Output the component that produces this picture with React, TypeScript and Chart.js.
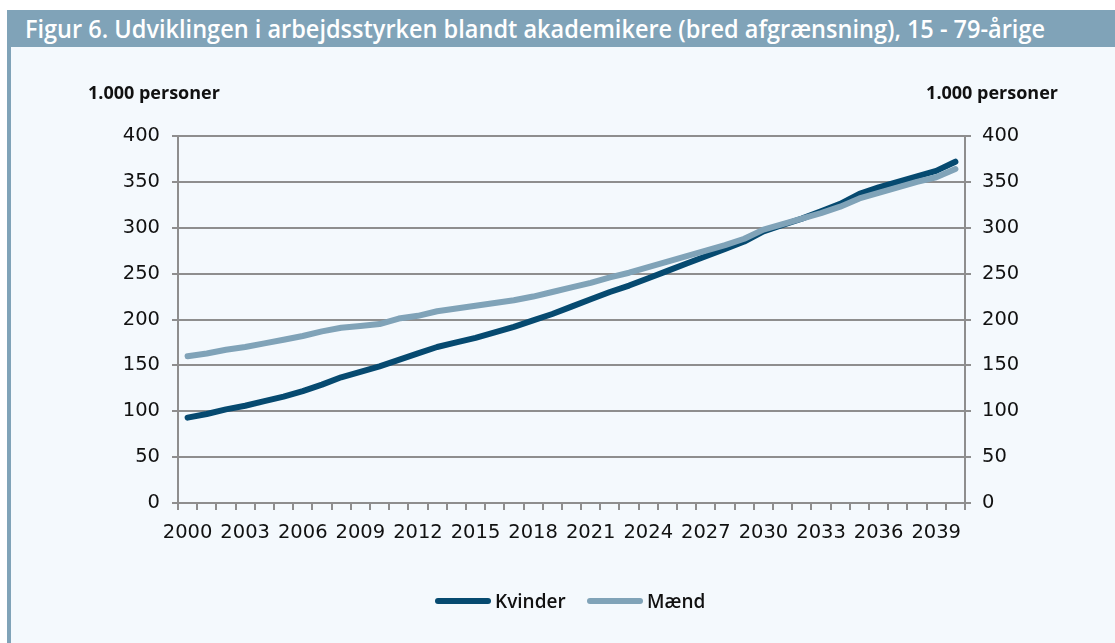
import React, { useEffect, useRef } from "react";
import { Chart, registerables } from "chart.js";

Chart.register(...registerables);

const years: string[] = [];
for (let y = 2000; y <= 2040; y++) years.push(String(y));

const kvinder: number[] = [
  93, 97, 102, 106, 111, 116, 122, 129, 137, 143,
  149, 156, 163, 170, 175, 180, 186, 192, 199, 206,
  214, 222, 230, 237, 245, 253, 261, 269, 277, 285,
  296, 303, 310, 318, 326, 337, 344, 350, 356, 362,
  372,
];

const maend: number[] = [
  160, 163, 167, 170, 174, 178, 182, 187, 191, 193,
  195, 201, 204, 209, 212, 215, 218, 221, 225, 230,
  235, 240, 246, 251, 257, 263, 269, 275, 281, 288,
  298, 304, 310, 316, 323, 332, 338, 344, 350, 355,
  364,
];

const seriesNames = ["Kvinder", "Mænd"];
const titleText =
  "Figur 6. Udviklingen i arbejdsstyrken blandt akademikere (bred afgrænsning), 15 - 79-årige";
const axisTitle = "1.000 personer";

const DARK = "#064a70";
const LIGHT = "#80a3b8";
const GRID = "#8e8e8e";
const TICK_FONT = { family: "DejaVu Sans", size: 19.5 };

export default function App() {
  const canvasRef = useRef<HTMLCanvasElement | null>(null);
  const titleRef = useRef<HTMLSpanElement | null>(null);

  useEffect(() => {
    const t = titleRef.current;
    if (t) {
      const w = t.getBoundingClientRect().width;
      if (w > 0) t.style.transform = `scaleX(${1020 / w})`;
    }
    const canvas = canvasRef.current;
    if (!canvas) return;
    const chart = new Chart(canvas, {
      type: "line",
      data: {
        labels: years,
        datasets: [
          {
            label: seriesNames[0],
            data: kvinder,
            borderColor: DARK,
            backgroundColor: DARK,
            borderWidth: 6,
            borderCapStyle: "round",
            borderJoinStyle: "round",
            pointRadius: 0,
            tension: 0,
            yAxisID: "y",
            order: 2,
          },
          {
            label: seriesNames[1],
            data: maend,
            borderColor: LIGHT,
            backgroundColor: LIGHT,
            borderWidth: 6,
            borderCapStyle: "round",
            borderJoinStyle: "round",
            pointRadius: 0,
            tension: 0,
            yAxisID: "y",
            order: 1,
          },
        ],
      },
      options: {
        responsive: false,
        animation: false,
        devicePixelRatio: 1,
        layout: { padding: { top: 136, left: 0, right: 0, bottom: 0 } },
        plugins: {
          legend: { display: false },
          tooltip: { enabled: false },
        },
        scales: {
          x: {
            type: "category",
            offset: true,
            afterFit: (s: any) => {
              s.height = 140;
            },
            grid: {
              offset: true,
              drawOnChartArea: false,
              drawTicks: true,
              tickLength: 7,
              color: GRID,
              lineWidth: 2,
            },
            border: { display: true, color: GRID, width: 2 },
            ticks: {
              autoSkip: false,
              maxRotation: 0,
              minRotation: 0,
              padding: 11,
              color: "#111",
              font: TICK_FONT,
              callback: (_v: any, i: number) => (i % 3 === 0 ? years[i] : ""),
            },
          },
          y: {
            position: "left",
            min: 0,
            max: 400,
            afterFit: (s: any) => {
              s.width = 178;
            },
            grid: {
              color: GRID,
              lineWidth: 2,
              tickLength: 6,
            },
            border: { display: true, color: GRID, width: 2 },
            ticks: {
              stepSize: 50,
              padding: 12,
              color: "#111",
              font: TICK_FONT,
            },
          },
          y2: {
            position: "right",
            min: 0,
            max: 400,
            afterFit: (s: any) => {
              s.width = 150;
            },
            grid: {
              drawOnChartArea: false,
              color: GRID,
              lineWidth: 2,
              tickLength: 6,
            },
            border: { display: true, color: GRID, width: 2 },
            ticks: {
              stepSize: 50,
              padding: 11,
              color: "#111",
              font: TICK_FONT,
            },
          },
        },
      },
    } as any);
    return () => chart.destroy();
  }, []);

  const legendItem = (name: string, color: string, left: number) => (
    <div
      style={{
        position: "absolute",
        left,
        top: 590,
        height: 22,
        display: "flex",
        alignItems: "center",
      }}
    >
      <span
        style={{
          display: "inline-block",
          width: 56,
          height: 6,
          borderRadius: 3,
          background: color,
          marginRight: 4,
        }}
      />
      <span
        style={{
          fontFamily: "'Open Sans'",
          fontWeight: 600,
          fontSize: 19,
          color: "#111",
          lineHeight: "22px",
        }}
      >
        {name}
      </span>
    </div>
  );

  const axisTitleStyle: React.CSSProperties = {
    position: "absolute",
    top: 80,
    fontFamily: "'Open Sans'",
    fontWeight: 700,
    fontSize: 18,
    lineHeight: "24px",
    color: "#111",
    whiteSpace: "nowrap",
  };

  return (
    <div
      style={{
        position: "absolute",
        left: 0,
        top: 0,
        width: 1115,
        height: 643,
        background: "#ffffff",
        overflow: "hidden",
      }}
    >
      <div
        style={{
          position: "absolute",
          left: 7,
          top: 10,
          width: 1108,
          height: 37,
          background: LIGHT,
        }}
      >
        <span
          ref={titleRef}
          style={{
            position: "absolute",
            left: 18,
            top: 2,
            whiteSpace: "nowrap",
            fontFamily: "'Open Sans'",
            fontWeight: 600,
            fontSize: 25,
            lineHeight: "32px",
            color: "#ffffff",
            transformOrigin: "left center",
          }}
        >
          {titleText}
        </span>
      </div>
      <div
        style={{
          position: "absolute",
          left: 7,
          top: 47,
          width: 4,
          height: 596,
          background: LIGHT,
        }}
      />
      <div
        style={{
          position: "absolute",
          left: 11,
          top: 47,
          width: 1104,
          height: 596,
          background: "#f4f9fd",
        }}
      />
      <canvas
        ref={canvasRef}
        width={1115}
        height={643}
        style={{ position: "absolute", left: 0, top: 0, width: 1115, height: 643 }}
      />
      <div style={{ ...axisTitleStyle, left: 88 }}>{axisTitle}</div>
      <div style={{ ...axisTitleStyle, right: 1115 - 1058 }}>{axisTitle}</div>
      {legendItem(seriesNames[0], DARK, 435)}
      {legendItem(seriesNames[1], LIGHT, 587)}
    </div>
  );
}
